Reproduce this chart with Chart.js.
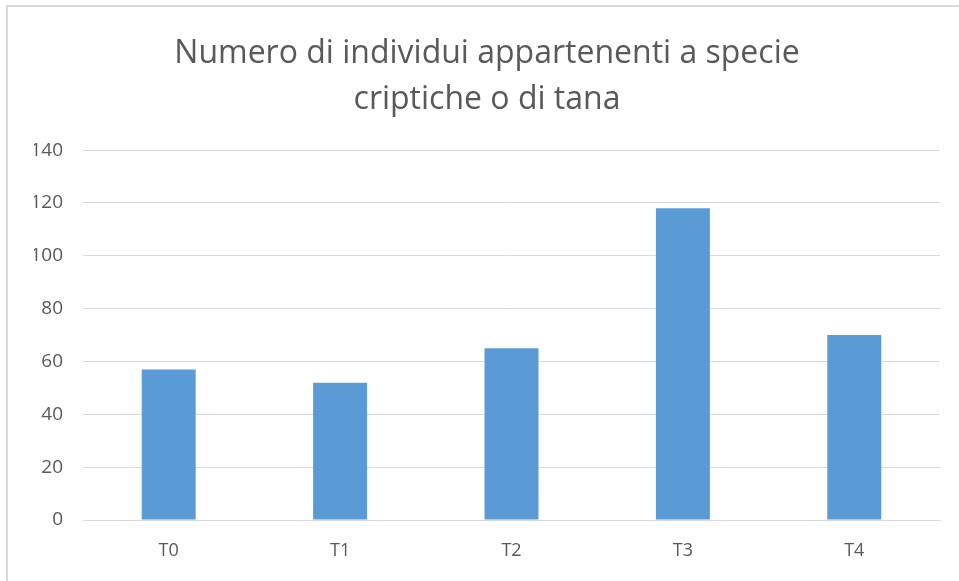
<!DOCTYPE html>
<html lang="it">
<head>
    <meta charset="UTF-8">
    <title>Numero di individui appartenenti a specie criptiche o di tana</title>
    <script src="https://cdn.jsdelivr.net/npm/chart.js"></script>
    <style>
        html, body { margin: 0; padding: 0; background: #fff; overflow: hidden; }
        #frame { position: absolute; left: 6px; top: 5px; width: 1000px; height: 700px;
                 border-left: 2px solid #d9d9d9; border-top: 2px solid #d9d9d9; }
        #chartBox { position: absolute; left: 0; top: 0; width: 959px; height: 581px; }
    </style>
</head>
<body>
    <div id="frame"></div>
    <div id="chartBox">
        <canvas id="barChart"></canvas>
    </div>

    <script>
        var categories = ["T0", "T1", "T2", "T3", "T4"];
        var values = [57, 52, 65, 118, 70];
        var yTicks = [0, 20, 40, 60, 80, 100, 120, 140];
        var titleLines = ["Numero di individui appartenenti a specie", "criptiche o di tana"];

        var textColor = "#595959";
        var gridColor = "#d9d9d9";

        new Chart(document.getElementById("barChart"), {
            type: "bar",
            data: {
                labels: categories,
                datasets: [{
                    label: "Individui",
                    data: values,
                    backgroundColor: "#5b9bd5",
                    borderWidth: 0,
                    barPercentage: 0.315,
                    categoryPercentage: 1
                }]
            },
            options: {
                responsive: true,
                maintainAspectRatio: false,
                animation: false,
                layout: { padding: { left: 34, right: 19, top: 8, bottom: 0 } },
                plugins: {
                    legend: { display: false },
                    tooltip: { enabled: false },
                    title: {
                        display: true,
                        text: titleLines,
                        color: textColor,
                        font: { family: "Open Sans", size: 32, weight: "normal", lineHeight: 1.44 },
                        padding: { top: 23, bottom: 27 }
                    }
                },
                scales: {
                    x: {
                        afterFit: function(axis) { axis.height = 61; },
                        grid: { display: false, drawTicks: false },
                        border: { display: true, color: gridColor, width: 1 },
                        ticks: { color: textColor, padding: 20, font: { family: "Open Sans", size: 18 } }
                    },
                    y: {
                        min: yTicks[0],
                        max: yTicks[yTicks.length - 1],
                        afterBuildTicks: function(axis) {
                            axis.ticks = yTicks.map(function(v) { return { value: v }; });
                        },
                        afterFit: function(axis) { axis.width = 49; },
                        grid: { color: gridColor, lineWidth: 1, drawTicks: false },
                        border: { display: false },
                        ticks: { color: textColor, padding: 20, font: { family: "Open Sans", size: 19 } }
                    }
                }
            }
        });
    </script>
</body>
</html>
